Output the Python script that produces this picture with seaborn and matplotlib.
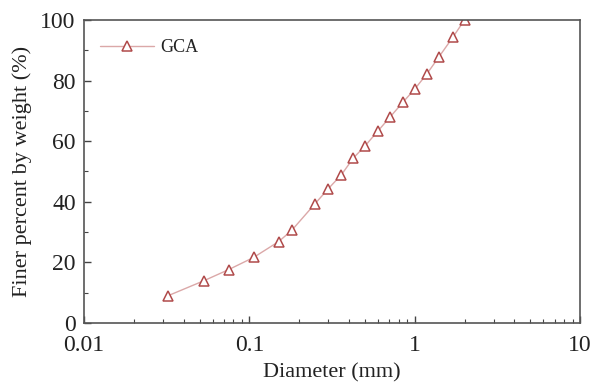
import matplotlib
matplotlib.use("Agg")
import matplotlib.pyplot as plt
import seaborn as sns
import pandas as pd
from matplotlib.ticker import LogLocator, MultipleLocator, FixedLocator, FixedFormatter

diameter = [0.032, 0.053, 0.075, 0.106, 0.15, 0.18, 0.25, 0.30, 0.36, 0.425,
            0.50, 0.60, 0.71, 0.85, 1.0, 1.18, 1.40, 1.70, 2.0]
finer = [8.9, 13.9, 17.6, 21.6, 26.8, 30.5, 39.4, 44.3, 48.9, 54.4,
         58.4, 63.4, 68.0, 72.9, 77.2, 82.1, 87.8, 94.3, 100.0]
series = "GCA"
xticks = [0.01, 0.1, 1, 10]
xtick_labels = ["0.01", "0.1", "1", "10"]

df = pd.DataFrame({"Diameter": diameter, "Finer": finer, "Series": series})

sns.set_style("ticks")
plt.rcParams["font.family"] = ["Liberation Serif", "DejaVu Serif"]

fig = plt.figure(figsize=(5.92, 3.83), dpi=100)
ax = fig.add_axes([0.142, 0.157, 0.838, 0.791])

sns.lineplot(data=df, x="Diameter", y="Finer", hue="Series", palette=["#dba8a8"],
             marker="^", markersize=7, markerfacecolor="white",
             markeredgecolor="#b04a4a", markeredgewidth=1.1, linewidth=1.0, ax=ax)

ax.set_xscale("log")
ax.set_xlim(0.01, 10)
ax.set_ylim(0, 100)
ax.xaxis.set_major_locator(FixedLocator(xticks))
ax.xaxis.set_major_formatter(FixedFormatter(xtick_labels))
ax.xaxis.set_minor_locator(LogLocator(base=10, subs=range(2, 10)))
ax.yaxis.set_major_locator(MultipleLocator(20))
ax.yaxis.set_minor_locator(MultipleLocator(10))
ax.tick_params(axis="both", which="both", direction="in", top=False, right=False,
               colors="#444444", labelcolor="#222222", labelsize=17)
ax.tick_params(which="major", length=5, width=1.0)
ax.tick_params(which="minor", length=3, width=0.8)
ax.tick_params(axis="x", which="major", pad=9)
ax.tick_params(axis="y", which="major", pad=6)
for s in ax.spines.values():
    s.set_color("#555555")
    s.set_linewidth(1.2)
    s.set_visible(True)

ax.set_xlabel("Diameter (mm)", fontsize=16, color="#222222", labelpad=5)
ax.set_ylabel("Finer percent by weight (%)", fontsize=16, color="#222222", labelpad=6)

leg = ax.legend(loc="upper left", frameon=False, fontsize=13, handlelength=3.0,
                handletextpad=0.3, bbox_to_anchor=(0.0, 0.99))
for t in leg.get_texts():
    t.set_color("#222222")

fig.savefig("out.png", dpi=100)
